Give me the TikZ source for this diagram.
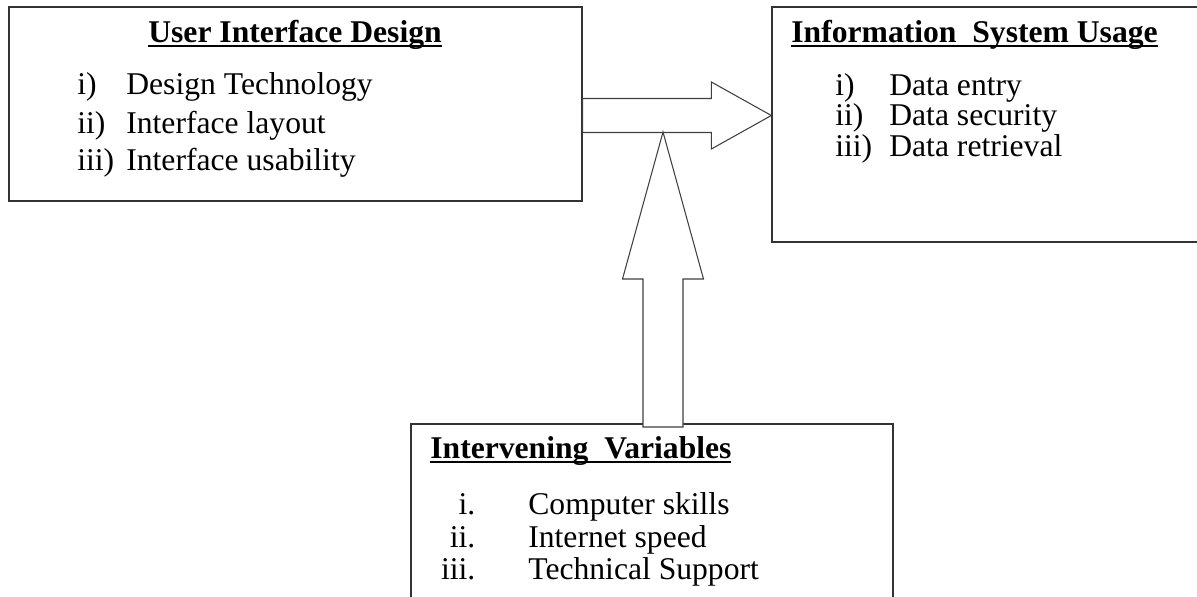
\documentclass[tikz,border=0pt]{standalone}
\usepackage{fontspec}
\setmainfont{Liberation Serif}
\usepackage{tikz}
\usetikzlibrary{positioning,calc}
\newcommand{\headrule}[1]{\setbox0=\hbox{#1}\rlap{\rule[-0.16em]{\wd0}{0.065em}}\box0}

\begin{document}
\begin{tikzpicture}[panel/.style={rectangle, draw=black!80, line width=0.75pt, inner sep=0pt}, boxhead/.style={inner sep=0pt, anchor=base west, font=\fontsize{18}{21}\selectfont}, boxitem/.style={inner sep=0pt, anchor=base west, font=\fontsize{18}{21}\selectfont}, blockarrow/.style={draw=black!75, fill=white, line width=0.6pt, line join=miter}]
				\useasboundingbox (0,0) rectangle (23.94,-11.92);
				% Nodes

				\node [panel, minimum width=11.46cm, minimum height=3.88cm] (uid) at (5.91,-2.08) {};
				\node [panel, minimum width=8.54cm, minimum height=4.70cm] (isu) at (19.71,-2.49) {};
				\node [panel, minimum width=9.64cm, minimum height=3.62cm] (iv) at (13.04,-10.29) {};

				\node [boxhead, anchor=base] (uidT) at (5.90,-0.84) {\headrule{\textbf{User Interface Design}}};
				\node [boxitem] (uid1) at (1.54,-1.88) {\makebox[0.98cm][l]{i)}Design Technology};
				\node [boxitem] (uid2) at (1.54,-2.66) {\makebox[0.98cm][l]{ii)}Interface layout};
				\node [boxitem] (uid3) at (1.54,-3.40) {\makebox[0.98cm][l]{iii)}Interface usability};

				\node [boxhead] (isuT) at (15.82,-0.84) {\headrule{\textbf{Information\ \ System Usage}}};
				\node [boxitem] (isu1) at (16.70,-1.91) {\makebox[1.08cm][l]{i)}Data entry};
				\node [boxitem] (isu2) at (16.70,-2.50) {\makebox[1.08cm][l]{ii)}Data security};
				\node [boxitem] (isu3) at (16.70,-3.12) {\makebox[1.08cm][l]{iii)}Data retrieval};

				\node [boxhead] (ivT) at (8.60,-9.16) {\headrule{\textbf{Intervening\ \ Variables}}};
				\node [boxitem] (iv1) at (8.80,-10.28) {\makebox[0.70cm][r]{i.}\hspace{1.06cm}Computer skills};
				\node [boxitem] (iv2) at (8.80,-10.95) {\makebox[0.70cm][r]{ii.}\hspace{1.06cm}Internet speed};
				\node [boxitem] (iv3) at (8.80,-11.58) {\makebox[0.70cm][r]{iii.}\hspace{1.06cm}Technical Support};

				% Arrows

				\coordinate (ra) at (uid.east |- 0,-2.31);
				\coordinate (rb) at (isu.west |- 0,-2.31);
				\coordinate (ua) at (13.26,-8.54);
				\coordinate (ub) at (13.26,-2.64);
				\draw[blockarrow] ($ (ra) +(0,0.34) $) -- ($ (rb) +(-1.20,0.34) $) -- ($ (rb) +(-1.20,0.67) $) -- (rb) -- ($ (rb) +(-1.20,-0.67) $) -- ($ (rb) +(-1.20,-0.34) $) -- ($ (ra) +(0,-0.34) $) -- cycle;
				\draw[blockarrow] ($ (ua) +(-0.40,0) $) -- ($ (ub) +(-0.40,-2.94) $) -- ($ (ub) +(-0.81,-2.94) $) -- (ub) -- ($ (ub) +(0.81,-2.94) $) -- ($ (ub) +(0.40,-2.94) $) -- ($ (ua) +(0.40,0) $) -- cycle;
			\end{tikzpicture}
\end{document}
